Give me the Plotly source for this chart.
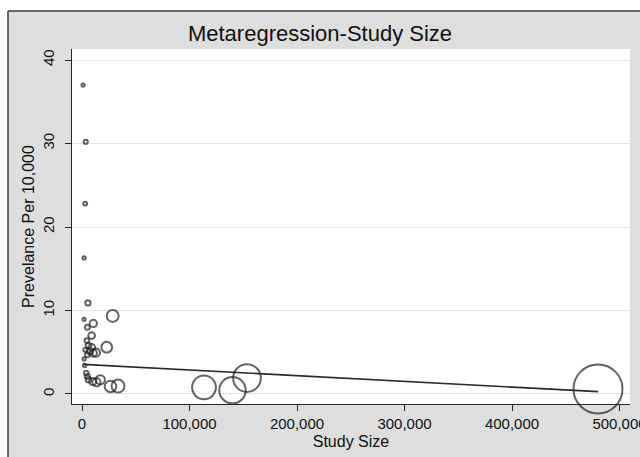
import plotly.graph_objects as go

# Study size (x) and prevalence per 10,000 (y); marker area is proportional to study size
study_size = [1000, 3500, 3000, 2000, 5500, 28500, 2000, 10500, 5000, 9000,
              4500, 23000, 6000, 3000, 9000, 7500, 10500, 13000, 5000, 2000,
              2500, 4000, 5000, 6000, 10000, 17000, 13500, 26500, 33500,
              113500, 140000, 153500, 480000]
prevalence = [37.0, 30.2, 22.8, 16.3, 10.9, 9.35, 8.95, 8.45, 8.0, 7.0,
              6.4, 5.6, 5.8, 5.3, 5.6, 5.1, 4.9, 4.95, 4.7, 4.2,
              3.4, 2.5, 2.1, 1.7, 1.5, 1.7, 1.4, 0.9, 0.95,
              0.8, 0.45, 1.9, 0.6]

# Fitted meta-regression line (endpoints)
fit_x = [1000, 480000]
fit_y = [3.55, 0.28]

x_ticks = [0, 100000, 200000, 300000, 400000, 500000]
x_ticklabels = ["0", "100,000", "200,000", "300,000", "400,000", "500,000"]
y_ticks = [0, 10, 20, 30, 40]

DARK = "#262626"
FONT = "Liberation Sans, Arial, sans-serif"

fig = go.Figure()
fig.add_trace(go.Scatter(
    x=study_size, y=prevalence, mode="markers",
    marker=dict(size=study_size, sizemode="area", sizeref=400, sizemin=1.6,
                color="rgba(0,0,0,0)", line=dict(color="#222222", width=2)),
    showlegend=False, cliponaxis=False,
))
fig.add_trace(go.Scatter(
    x=fit_x, y=fit_y, mode="lines",
    line=dict(color="#2a2a2a", width=1.6), showlegend=False,
))

L, R, T, B = 72, 10, 49, 53
W, H = 640, 457
pw, ph = W - L - R, H - T - B

def px(xp):
    return (xp - L) / pw

def py(yp):
    return (H - B - yp) / ph

BORDER = "#3a3a3a"
fig.update_layout(
    width=W, height=H,
    margin=dict(l=L, r=R, t=T, b=B, pad=0, autoexpand=False),
    paper_bgcolor="#dedede", plot_bgcolor="white",
    font=dict(family=FONT, color="#111111"),
    title=dict(text="Metaregression-Study Size", x=px(351), xanchor="center",
               y=1 - 33 / H, yanchor="middle", font=dict(size=22, color="#111111")),
    shapes=[
        dict(type="rect", xref="paper", yref="paper", layer="below",
             x0=px(0), x1=px(W), y0=py(11), y1=py(0),
             fillcolor="white", line=dict(width=0)),
        dict(type="rect", xref="paper", yref="paper", layer="below",
             x0=px(0), x1=px(8), y0=py(H), y1=py(0),
             fillcolor="white", line=dict(width=0)),
        dict(type="line", xref="paper", yref="paper", layer="below",
             x0=px(8), x1=px(W), y0=py(11), y1=py(11),
             line=dict(color=BORDER, width=1.5)),
        dict(type="line", xref="paper", yref="paper", layer="below",
             x0=px(8), x1=px(8), y0=py(11), y1=py(H),
             line=dict(color=BORDER, width=1.5)),
    ],
    xaxis=dict(range=[-9302, 509767], tickvals=x_ticks, ticktext=x_ticklabels,
               automargin=False,
               showgrid=False, zeroline=False, showline=True, linecolor=DARK, linewidth=1.2,
               ticks="outside", ticklen=6, tickcolor=DARK, tickwidth=1.2,
               ticklabeloverflow="allow",
               tickfont=dict(size=15, family=FONT, color="#111111"),
               title=dict(text="Study Size", font=dict(size=16, family=FONT, color="#111111"),
                          standoff=4)),
    yaxis=dict(range=[-1.2, 41.32], tickvals=y_ticks, showgrid=True,
               automargin=False,
               gridcolor="#e4e4e4", gridwidth=1.2, zeroline=False,
               showline=True, linecolor=DARK, linewidth=1.2,
               ticks="outside", ticklen=6, tickcolor=DARK, tickwidth=1.2, tickangle=-90,
               ticklabelstandoff=5,
               tickfont=dict(size=15, family=FONT, color="#111111"),
               title=dict(text="Prevelance Per 10,000",
                          font=dict(size=16, family=FONT, color="#111111"), standoff=1)),
)

fig.write_html("out.html")
